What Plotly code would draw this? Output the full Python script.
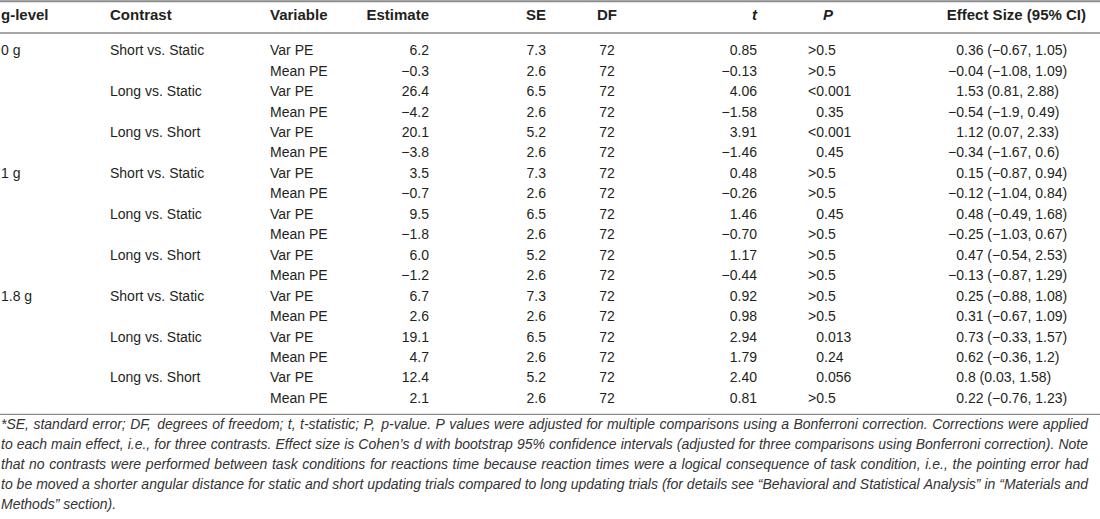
import plotly.graph_objects as go

# ---------------- data ----------------
g_levels = ["0 g", "1 g", "1.8 g"]
contrasts = ["Short vs. Static", "Long vs. Static", "Long vs. Short"]
variables = ["Var PE", "Mean PE"]

estimate = [6.2, -0.3, 26.4, -4.2, 20.1, -3.8,
            3.5, -0.7, 9.5, -1.8, 6.0, -1.2,
            6.7, 2.6, 19.1, 4.7, 12.4, 2.1]
se = [7.3, 2.6, 6.5, 2.6, 5.2, 2.6,
      7.3, 2.6, 6.5, 2.6, 5.2, 2.6,
      7.3, 2.6, 6.5, 2.6, 5.2, 2.6]
dof = [72, 72, 72, 72, 72, 72,
       72, 72, 72, 72, 72, 72,
       72, 72, 72, 72, 72, 72]
t_stat = [0.85, -0.13, 4.06, -1.58, 3.91, -1.46,
          0.48, -0.26, 1.46, -0.70, 1.17, -0.44,
          0.92, 0.98, 2.94, 1.79, 2.40, 0.81]
p_vals = [">0.5", ">0.5", "<0.001", "0.35", "<0.001", "0.45",
          ">0.5", ">0.5", "0.45", ">0.5", ">0.5", ">0.5",
          ">0.5", ">0.5", "0.013", "0.24", "0.056", ">0.5"]
effect = [0.36, -0.04, 1.53, -0.54, 1.12, -0.34,
          0.15, -0.12, 0.48, -0.25, 0.47, -0.13,
          0.25, 0.31, 0.73, 0.62, 0.8, 0.22]
ci_low = [-0.67, -1.08, 0.81, -1.9, 0.07, -1.67,
          -0.87, -1.04, -0.49, -1.03, -0.54, -0.87,
          -0.88, -0.67, -0.33, -0.36, 0.03, -0.76]
ci_high = [1.05, 1.09, 2.88, 0.49, 2.33, 0.6,
           0.94, 0.84, 1.68, 0.67, 2.53, 1.29,
           1.08, 1.09, 1.57, 1.2, 1.58, 1.23]

headers = ["g-level", "Contrast", "Variable", "Estimate", "SE", "DF",
           "<i>t</i>", "<i>P</i>", "Effect Size (95% CI)"]

footnote = [
    "*SE, standard error; DF, degrees of freedom; t, t-statistic; P, p-value. P values were adjusted for multiple comparisons using a Bonferroni correction. Corrections were applied",
    "to each main effect, i.e., for three contrasts. Effect size is Cohen\u2019s d with bootstrap 95% confidence intervals (adjusted for three comparisons using Bonferroni correction). Note",
    "that no contrasts were performed between task conditions for reactions time because reaction times were a logical consequence of task condition, i.e., the pointing error had",
    "to be moved a shorter angular distance for static and short updating trials compared to long updating trials (for details see \u201cBehavioral and Statistical Analysis\u201d in \u201cMaterials and",
    "Methods\u201d section).",
]

# ---------------- helpers ----------------
MINUS = "\u2212"


def num(v, fmt=None):
    s = format(v, fmt) if fmt else str(v)
    return s.replace("-", MINUS)


n = len(estimate)
rows = list(range(1, n + 1))
g_col, c_col, v_col = [], [], []
for i in range(n):
    g_col.append(g_levels[i // 6] if i % 6 == 0 else "")
    c_col.append(contrasts[(i // 2) % 3] if i % 2 == 0 else "")
    v_col.append(variables[i % 2])

est_txt = [num(v, ".1f") for v in estimate]
se_txt = [num(v, ".1f") for v in se]
df_txt = [str(v) for v in dof]
t_txt = [num(v, ".2f") for v in t_stat]
es_full = [f"{num(e)} ({num(lo)}, {num(hi)})" for e, lo, hi in zip(effect, ci_low, ci_high)]


def split_dec(strings):
    left, right = [], []
    for s in strings:
        k = s.index(".")
        left.append(s[:k])
        right.append(s[k:])
    return left, right


p_left, p_right = split_dec(p_vals)
es_left, es_right = split_dec(es_full)

# Arial / Liberation Sans advance widths (1/1000 em) for justifying the note
_W = {" ": 278, "!": 278, '"': 355, "%": 889, "'": 191, "(": 333, ")": 333,
      "*": 389, ",": 278, "-": 333, ".": 278, "/": 278, ":": 278, ";": 278,
      "?": 556, "\u2019": 222, "\u201c": 333, "\u201d": 333,
      "A": 667, "B": 667, "C": 722, "D": 722, "E": 667, "F": 611, "G": 778,
      "H": 722, "I": 278, "J": 500, "K": 667, "L": 556, "M": 833, "N": 722,
      "O": 778, "P": 667, "Q": 778, "R": 722, "S": 667, "T": 611, "U": 722,
      "V": 667, "W": 944, "X": 667, "Y": 667, "Z": 611,
      "a": 556, "b": 556, "c": 500, "d": 556, "e": 556, "f": 278, "g": 556,
      "h": 556, "i": 222, "j": 222, "k": 500, "l": 222, "m": 833, "n": 556,
      "o": 556, "p": 556, "q": 556, "r": 333, "s": 500, "t": 278, "u": 556,
      "v": 500, "w": 722, "x": 500, "y": 500, "z": 500}


def text_width(s, size):
    return sum(_W.get(ch, 556) for ch in s) * size / 1000.0


# ---------------- layout constants ----------------
FONT = "Liberation Sans, Arial, Helvetica, sans-serif"
TXT = "#231f20"
LINE = "#8a8a8a"
FS = 14
FS_HEAD = 15
FS_FOOT = 14

X_G, X_C, X_V = 1, 110, 270
X_EST, X_SE, X_DF, X_T = 429, 546, 607, 757
X_P_DEC, X_ES_DEC = 824, 964
X_P_HEAD, X_ES_HEAD = 823, 1086
FOOT_LEFT, FOOT_RIGHT = 1, 1088

HEAD_Y = -0.711
FOOT_Y0 = 19.30
FOOT_DY = 0.968

fig = go.Figure()


def add_text(xs, ys, texts, pos, size=FS, color=TXT):
    fig.add_trace(go.Scatter(
        x=xs, y=ys, text=texts, mode="text", textposition=pos,
        textfont=dict(family=FONT, size=size, color=color),
        hoverinfo="skip", showlegend=False, cliponaxis=False))


# header
head_x = [X_G, X_C, X_V, X_EST, X_SE, X_DF, X_T, X_P_HEAD, X_ES_HEAD]
head_pos = ["middle right", "middle right", "middle right", "middle left",
            "middle left", "middle center", "middle left", "middle right", "middle left"]
for hx, ht, hp in zip(head_x, headers, head_pos):
    add_text([hx], [HEAD_Y], [f"<b>{ht}</b>"], hp, size=FS_HEAD)

# body
add_text([X_G] * n, rows, g_col, "middle right")
add_text([X_C] * n, rows, c_col, "middle right")
add_text([X_V] * n, rows, v_col, "middle right")
add_text([X_EST] * n, rows, est_txt, "middle left")
add_text([X_SE] * n, rows, se_txt, "middle left")
add_text([X_DF] * n, rows, df_txt, "middle center")
add_text([X_T] * n, rows, t_txt, "middle left")
add_text([X_P_DEC] * n, rows, p_left, "middle left")
add_text([X_P_DEC] * n, rows, p_right, "middle right")
add_text([X_ES_DEC] * n, rows, es_left, "middle left")
add_text([X_ES_DEC] * n, rows, es_right, "middle right")

# footnote (justified except the last line)
fx, fy, ft = [], [], []
for k, line in enumerate(footnote):
    y = FOOT_Y0 + k * FOOT_DY
    words = line.split(" ")
    last = k == len(footnote) - 1
    widths = [text_width(w, FS_FOOT) for w in words]
    space = text_width(" ", FS_FOOT)
    if last or len(words) < 2:
        gap = space
    else:
        gap = (FOOT_RIGHT - FOOT_LEFT - sum(widths)) / (len(words) - 1)
    x = FOOT_LEFT
    for w, wd in zip(words, widths):
        fx.append(x)
        fy.append(y)
        ft.append(f"<i>{w}</i>")
        x += wd + gap
add_text(fx, fy, ft, "middle right", size=FS_FOOT, color="#333333")

# rules
fig.add_hline(y=-1.464, line=dict(color=LINE, width=2))
fig.add_hline(y=0.086, line=dict(color=LINE, width=1.3))
fig.add_hline(y=18.73, line=dict(color=LINE, width=1.3))

fig.update_layout(
    width=1100, height=519,
    margin=dict(l=0, r=0, t=0, b=0),
    paper_bgcolor="white", plot_bgcolor="white",
    xaxis=dict(range=[0, 1100], visible=False, fixedrange=True),
    yaxis=dict(range=[23.85, -1.528], visible=False, fixedrange=True),
    font=dict(family=FONT, color=TXT),
)

fig.write_html(
    "out.html",
    config={"displayModeBar": False},
    post_script="document.body.style.margin='0';document.body.style.padding='0';"
                "document.body.style.overflow='hidden';",
)
